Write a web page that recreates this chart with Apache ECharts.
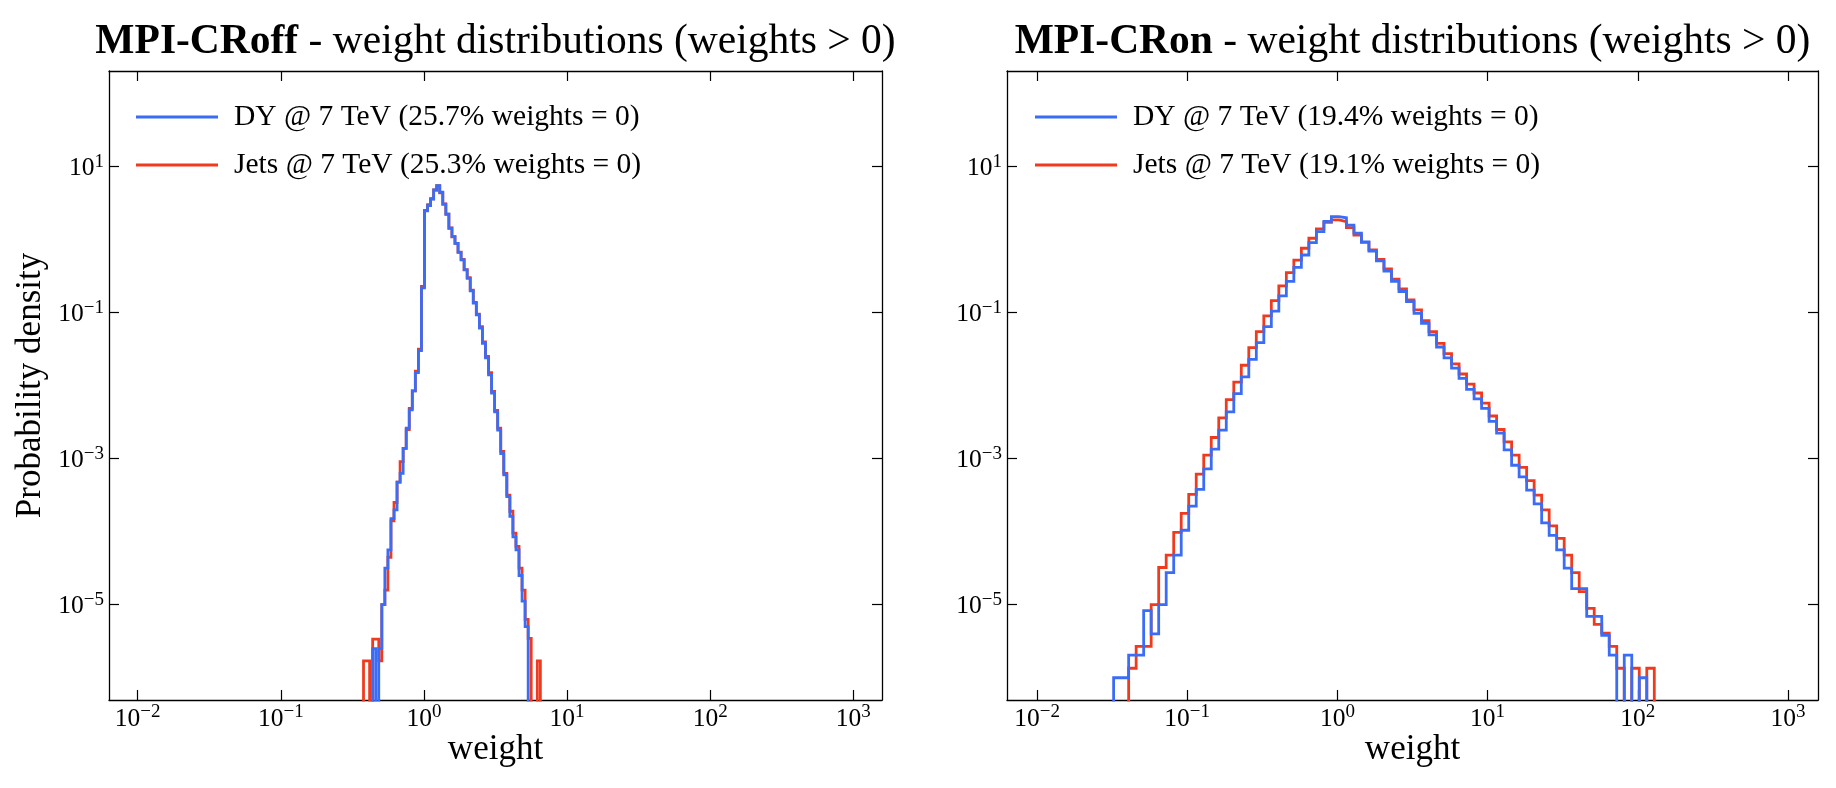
<!DOCTYPE html>
<html>
<head>
<meta charset="UTF-8">
<title>MPI weight distributions</title>
<script src="https://cdn.jsdelivr.net/npm/echarts@6.0.0/dist/echarts.min.js"></script>
<style>
  html, body { margin: 0; background: #fff; }
  #chart { width: 1836px; height: 788px; }
</style>
</head>
<body>
<div id="chart"></div>
<script>
// log-spaced bins: log10 of the first left edge and the width in decades
const offBinStart = -0.422, offBinWidth = 0.0213;
const onBinStart = -1.49, onBinWidth = 0.05;

// log10(probability density) per bin; null = empty bin
const dyOff = [null, null, null, -5.6, null, -5.6, -5.0, -4.5, -4.25, -3.82,
  -3.70, -3.32, -3.2, -2.86, -2.58, -2.33, -2.07, -1.82, -1.52, -0.66,
  0.393, 0.466, 0.557, 0.68, 0.74, 0.649, 0.485, 0.348, 0.156, 0.041,
  -0.05, -0.173, -0.278, -0.415, -0.53, -0.70, -0.87, -1.03, -1.21, -1.42,
  -1.62, -1.85, -2.10, -2.36, -2.61, -2.93, -3.22, -3.52, -3.79, -4.07,
  -4.25, -4.6, -4.95, -5.3];
const jetsOff = [-5.77, -5.77, null, -5.47, -5.47, -5.77, -5.0, -4.8, -4.35, -3.85,
  -3.6, -3.32, -3.04, -2.86, -2.6, -2.31, -2.07, -1.8, -1.5, -0.64,
  0.40, 0.48, 0.56, 0.68, 0.74, 0.64, 0.49, 0.35, 0.16, 0.04,
  -0.05, -0.17, -0.27, -0.41, -0.52, -0.69, -0.86, -1.02, -1.19, -1.40,
  -1.60, -1.82, -2.08, -2.34, -2.58, -2.90, -3.2, -3.5, -3.72, -4.02,
  -4.2, -4.5, -4.8, -5.2, -5.46, null, null, -5.77];
const dyOn = [-6.0, -6.0, -5.69, -5.69, -5.08, -5.40, -5.0, -4.56, -4.32, -3.98,
  -3.65, -3.42, -3.14, -2.87, -2.61, -2.36, -2.11, -1.88, -1.64, -1.41,
  -1.19, -0.98, -0.77, -0.57, -0.38, -0.21, -0.04, 0.11, 0.25, 0.315,
  0.30, 0.20, 0.09, -0.03, -0.155, -0.29, -0.43, -0.57, -0.71, -0.85,
  -1.01, -1.145, -1.305, -1.47, -1.62, -1.76, -1.90, -2.05, -2.18, -2.31,
  -2.49, -2.65, -2.88, -3.09, -3.25, -3.43, -3.62, -3.88, -4.05, -4.25,
  -4.50, -4.78, -4.78, -5.16, -5.16, -5.42, -5.69, null, -5.69, null,
  -6.0];
const jetsOn = [null, null, -5.87, -5.57, -5.57, -5.0, -4.49, -4.32, -4.01, -3.75,
  -3.49, -3.21, -2.95, -2.71, -2.44, -2.19, -1.95, -1.72, -1.48, -1.26,
  -1.045, -0.836, -0.634, -0.452, -0.28, -0.118, 0.019, 0.147, 0.238, 0.27,
  0.247, 0.164, 0.064, -0.036, -0.14, -0.27, -0.40, -0.54, -0.675, -0.826,
  -0.963, -1.11, -1.26, -1.42, -1.56, -1.70, -1.84, -1.98, -2.10, -2.24,
  -2.415, -2.60, -2.77, -2.95, -3.12, -3.30, -3.50, -3.70, -3.92, -4.09,
  -4.32, -4.56, -4.82, -5.05, -5.27, -5.39, -5.57, -5.87, null, -5.87,
  null, -5.87];

const dyOffName = 'DY @ 7 TeV (25.7% weights = 0)';
const jetsOffName = 'Jets @ 7 TeV (25.3% weights = 0)';
const dyOnName = 'DY @ 7 TeV (19.4% weights = 0)';
const jetsOnName = 'Jets @ 7 TeV (19.1% weights = 0)';

const xTicks = [1e-2, 1e-1, 1, 10, 100, 1000];
const yTicks = [1e-5, 1e-3, 1e-1, 10];
const xMin = Math.pow(10, -2.2), xMax = Math.pow(10, 3.2);
const yMin = Math.pow(10, -6.305), yMax = Math.pow(10, 2.31);

const FONT = 'Liberation Serif';
const BLUE = '#3a6cf6';
const RED = '#f03a1e';

// turn bin contents into the outline of a step histogram
function stepOutline(logDens, start, width) {
  const floor = 1e-9; // empty bins drop below the axis, like matplotlib
  let first = 0;
  while (logDens[first] === null) first++;
  let last = logDens.length - 1;
  while (logDens[last] === null) last--;
  const pts = [[Math.pow(10, start + width * first), floor]];
  for (let i = first; i <= last; i++) {
    const v = logDens[i] === null ? floor : Math.pow(10, logDens[i]);
    pts.push([Math.pow(10, start + width * i), v]);
  }
  pts.push([Math.pow(10, start + width * (last + 1)), floor]);
  return pts;
}

function powLabel(v) {
  const e = Math.round(Math.log10(v));
  return '{b|10}{s|' + (e < 0 ? '\u2212' + (-e) : e) + '}';
}

const labelRich = {
  b: { fontFamily: FONT, fontSize: 25.5, color: '#000', lineHeight: 29, verticalAlign: 'bottom' },
  s: { fontFamily: FONT, fontSize: 19, color: '#000', lineHeight: 19, verticalAlign: 'top' }
};

function xAxisCfg(grid, pos) {
  return {
    type: 'log', logBase: 10, gridIndex: grid, position: pos,
    min: xMin, max: xMax,
    axisLine: { show: true, onZero: false, lineStyle: { color: '#000', width: 1.3 } },
    axisTick: { show: true, inside: true, length: 10, customValues: xTicks, lineStyle: { color: '#000', width: 1.2 } },
    axisLabel: pos === 'bottom'
      ? { show: true, customValues: xTicks, margin: 3, formatter: powLabel, rich: labelRich }
      : { show: false },
    minorTick: { show: false },
    splitLine: { show: false }
  };
}

function yAxisCfg(grid, pos) {
  return {
    type: 'log', logBase: 10, gridIndex: grid, position: pos,
    min: yMin, max: yMax,
    axisLine: { show: true, onZero: false, lineStyle: { color: '#000', width: 1.3 } },
    axisTick: { show: true, inside: true, length: 10, customValues: yTicks, lineStyle: { color: '#000', width: 1.2 } },
    axisLabel: pos === 'left'
      ? { show: true, customValues: yTicks, margin: 5, formatter: powLabel, rich: labelRich }
      : { show: false },
    minorTick: { show: false },
    splitLine: { show: false }
  };
}

function histSeries(name, color, xi, yi, data) {
  return {
    name: name, type: 'line', step: 'end',
    xAxisIndex: xi, yAxisIndex: yi,
    data: data, showSymbol: false, symbol: 'none',
    clip: true, color: color,
    lineStyle: { color: color, width: 2.8, join: 'miter' },
    emphasis: { disabled: true }
  };
}

function legendCfg(names, left) {
  return {
    data: names, orient: 'vertical', left: left, top: 97,
    icon: 'rect', itemWidth: 82, itemHeight: 3, itemGap: 18,
    selectedMode: false,
    textStyle: { fontFamily: FONT, fontSize: 29.5, color: '#000', lineHeight: 30, padding: [0, 0, 0, 11] }
  };
}

function titleText(x, bold) {
  return {
    type: 'text', x: x, y: 42,
    style: {
      text: '{b|' + bold + '}{n| - weight distributions (weights > 0)}',
      align: 'center', verticalAlign: 'middle',
      rich: {
        b: { fontFamily: FONT, fontSize: 41.5, fontWeight: 'bold', fill: '#000' },
        n: { fontFamily: FONT, fontSize: 41.5, fill: '#000' }
      }
    }
  };
}

function plainText(x, y, text, rot) {
  return {
    type: 'text', x: x, y: y, rotation: rot || 0,
    style: { text: text, fontFamily: FONT, fontSize: 35, fill: '#000', align: 'center', verticalAlign: 'middle' }
  };
}

const chart = echarts.init(document.getElementById('chart'), null, { renderer: 'canvas' });
chart.setOption({
  animation: false,
  backgroundColor: '#fff',
  grid: [
    { left: 109, top: 71, width: 773, height: 629, outerBoundsMode: 'none' },
    { left: 1007, top: 71, width: 811, height: 629, outerBoundsMode: 'none' }
  ],
  xAxis: [xAxisCfg(0, 'bottom'), xAxisCfg(0, 'top'), xAxisCfg(1, 'bottom'), xAxisCfg(1, 'top')],
  yAxis: [yAxisCfg(0, 'left'), yAxisCfg(0, 'right'), yAxisCfg(1, 'left'), yAxisCfg(1, 'right')],
  legend: [legendCfg([dyOffName, jetsOffName], 131), legendCfg([dyOnName, jetsOnName], 1030)],
  series: [
    histSeries(jetsOffName, RED, 0, 0, stepOutline(jetsOff, offBinStart, offBinWidth)),
    histSeries(dyOffName, BLUE, 0, 0, stepOutline(dyOff, offBinStart, offBinWidth)),
    histSeries(jetsOnName, RED, 2, 2, stepOutline(jetsOn, onBinStart, onBinWidth)),
    histSeries(dyOnName, BLUE, 2, 2, stepOutline(dyOn, onBinStart, onBinWidth))
  ],
  graphic: [
    titleText(495.5, 'MPI-CRoff'),
    titleText(1412.5, 'MPI-CRon'),
    plainText(495.5, 750, 'weight'),
    plainText(1412.5, 750, 'weight'),
    plainText(31, 385.5, 'Probability density', Math.PI / 2)
  ]
});
</script>
</body>
</html>
